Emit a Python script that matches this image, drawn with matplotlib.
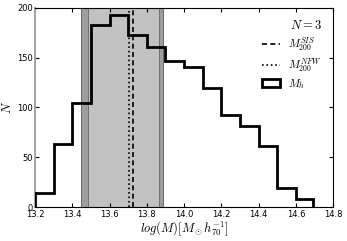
import matplotlib
matplotlib.use("Agg")
import matplotlib.pyplot as plt

# histogram of halo masses
bin_edges = [13.2, 13.3, 13.4, 13.5, 13.6, 13.7, 13.8, 13.9, 14.0,
             14.1, 14.2, 14.3, 14.4, 14.5, 14.6, 14.69]
counts = [14, 63, 105, 183, 193, 173, 161, 147, 141, 120, 92, 81, 61, 19, 8]

# mass estimates and their ranges
m200_sis = 13.725
m200_nfw = 13.705
outer_range = (13.445, 13.885)
inner_range = (13.485, 13.865)

plt.rcParams['mathtext.fontset'] = 'cm'

fig = plt.figure(figsize=(3.47, 2.41), dpi=100)
ax = fig.add_axes([0.101, 0.141, 0.859, 0.826])

# shaded ranges
ax.axvspan(*outer_range, facecolor='0.62', edgecolor='0.35', lw=0.6, zorder=1)
ax.axvspan(*inner_range, facecolor='0.76', edgecolor='0.4', lw=0.6, zorder=1)

ax.axvline(m200_sis, color='k', ls='--', dashes=(3, 2), lw=1.2, zorder=2,
           label='$M_{200}^{SIS}$')
ax.axvline(m200_nfw, color='k', ls=':', lw=1.2, zorder=2, label='$M_{200}^{NFW}$')

centers = [(a + b) / 2 for a, b in zip(bin_edges[:-1], bin_edges[1:])]
ax.hist(centers, bins=bin_edges, weights=counts, histtype='step',
        color='k', lw=2, zorder=3, label='$M_h$')

ax.set_xlim(13.2, 14.8)
ax.set_ylim(0, 200)
ax.set_xticks([13.2, 13.4, 13.6, 13.8, 14.0, 14.2, 14.4, 14.6, 14.8])
ax.set_yticks([0, 50, 100, 150, 200])
ax.tick_params(direction='in', top=True, right=True, labelsize=6, length=3)
ax.tick_params(axis='x', pad=2.5)
ax.tick_params(axis='y', pad=1.5)
ax.spines['left'].set_color('0.65')
ax.spines['left'].set_linewidth(1.5)

ax.set_xlabel(r'$log(M)[M_\odot h_{70}^{-1}]$', fontsize=9, labelpad=0)
ax.set_ylabel('$N$', fontsize=9, labelpad=2)

leg = ax.legend(loc='upper right', frameon=False, fontsize=8, title='$N=3$',
                title_fontsize=9, handlelength=1.6, labelspacing=0.3,
                borderaxespad=0.6)
leg._legend_box.align = 'right'

plt.savefig('out.png', dpi=100)
